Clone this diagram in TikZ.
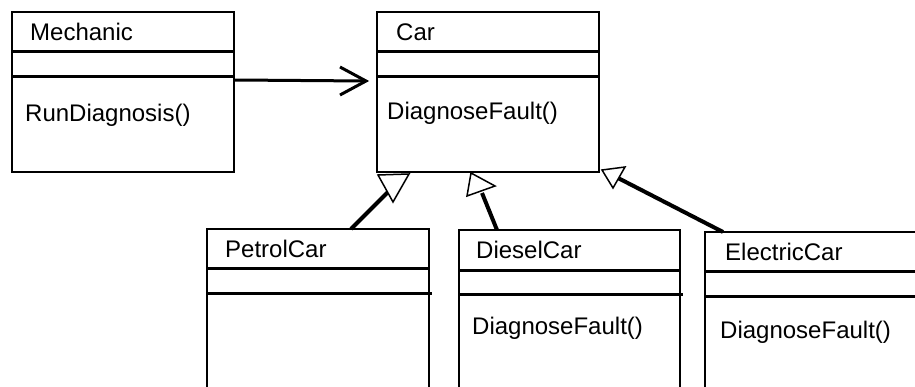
\documentclass[tikz,border=0pt]{standalone}
\usepackage{fontspec}
\setmainfont{Liberation Sans}
\begin{document}
\begin{tikzpicture}[x=1pt,y=-1pt,
  classbox/.style={draw=black, line width=1.6pt, fill=white, rectangle, inner sep=0pt, anchor=north west},
  divider/.style={line width=3pt},
  lbl/.style={anchor=west, inner sep=0pt, font=\fontsize{24}{28}\selectfont},
  assoc/.style={line width=3pt},
  genline/.style={line width=4pt},
  tri/.style={draw=black, line width=1.5pt, fill=white, line join=miter}]
\useasboundingbox (0,0) rectangle (915,387);

% class boxes
\node[classbox, minimum width=222pt, minimum height=160pt] (mech) at (11,11) {};
\node[classbox, minimum width=222pt, minimum height=160pt] (car) at (376,11) {};
\node[classbox, minimum width=222pt, minimum height=165pt] (petrol) at (206,228) {};
\node[classbox, minimum width=221pt, minimum height=165pt] (diesel) at (458,229) {};
\node[classbox, minimum width=216pt, minimum height=165pt] (electric) at (704,231) {};

% dividers
\draw[divider] (mech.west |- 0,52) -- (mech.east |- 0,52);
\draw[divider] (mech.west |- 0,77) -- (mech.east |- 0,77);
\draw[divider] (car.west |- 0,52) -- (car.east |- 0,52);
\draw[divider] (car.west |- 0,77) -- (car.east |- 0,77);
\draw[divider] (petrol.west |- 0,269) -- (petrol.east |- 0,269);
\draw[divider] (petrol.west |- 0,293) -- ([xshift=2pt]petrol.east |- 0,293);
\draw[divider] (diesel.west |- 0,271) -- (diesel.east |- 0,271);
\draw[divider] (diesel.west |- 0,294) -- ([xshift=2pt]diesel.east |- 0,294);
\draw[divider] (electric.west |- 0,272) -- (electric.east |- 0,272);
\draw[divider] (electric.west |- 0,296) -- (electric.east |- 0,296);

% labels
\node[lbl] (mechname) at (30,32) {Mechanic};
\node[lbl] (mechop) at (25,115) {RunDiagnosis()};
\node[lbl] (carname) at (396,32) {Car};
\node[lbl] (carop) at (387,113) {DiagnoseFault()};
\node[lbl] (petrolname) at (225,249) {PetrolCar};
\node[lbl] (dieselname) at (476,250) {DieselCar};
\node[lbl] (dieselop) at (472,328) {DiagnoseFault()};
\node[lbl] (electricname) at (725,252) {ElectricCar};
\node[lbl] (electricop) at (720,332) {DiagnoseFault()};

% association Mechanic -> Car (open arrow)
\coordinate (atip) at ([xshift=-10pt]car.west |- 0,81);
\draw[assoc] (mech.east |- 0,80) -- (atip);
\draw[assoc, line cap=butt, line join=miter] (340,67) -- (atip) -- (340,95);

% generalizations
\coordinate (p1) at (351,229);
\draw[genline] (p1) -- (388,192);
\draw[tri] (378,175) -- (409,174) -- (393,202) -- cycle;

\coordinate (d1) at (497,230);
\draw[genline] (d1) -- (482,193);
\draw[tri] (471,173) -- (495,186) -- (467,196) -- cycle;

\coordinate (e1) at (723,232);
\draw[genline] (e1) -- (618,178);
\draw[tri] (602,170) -- (625,167) -- (613,188) -- cycle;
\end{tikzpicture}
\end{document}
